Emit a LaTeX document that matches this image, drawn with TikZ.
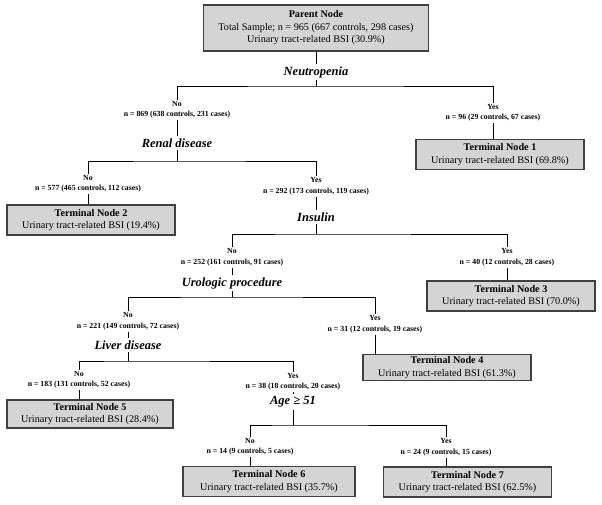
\documentclass[tikz,border=0pt]{standalone}
\usepackage{fontspec}
\setmainfont{Liberation Serif}
\usepackage{tikz}
\usetikzlibrary{positioning}

\begin{document}
\begin{tikzpicture}[
    x=1pt, y=-1pt,
    every node/.style={font=\fontsize{10.2}{12.5}\selectfont, align=center},
    box/.style={draw=black!75, line width=1.3pt, fill=black!17,
        minimum width=168pt, minimum height=30pt, inner sep=1pt},
    split/.style={font=\fontsize{12.5}{14}\selectfont\bfseries\itshape, inner sep=2pt},
    branch/.style={font=\fontsize{7.8}{10.5}\selectfont\bfseries, inner sep=1.5pt},
    line/.style={draw, line width=0.8pt}
]
\useasboundingbox (0,0) rectangle (602,504);

% Root
\node[box, minimum width=225pt, minimum height=46pt] (root) at (316,28)
    {\textbf{Parent Node}\\Total Sample; n = 965 (667 controls, 298 cases)\\Urinary tract-related BSI (30.9\%)};
\node[split] (neutro) at (316,72) {Neutropenia};
\coordinate (nbar) at (316,86);
\node[branch] (no1) at (177,110) {No\\n = 869 (638 controls, 231 cases)};
\node[branch] (yes1) at (493,113) {Yes\\n = 96 (29 controls, 67 cases)};
\node[box] (t1) at (500,154.5) {\textbf{Terminal Node 1}\\Urinary tract-related BSI (69.8\%)};

% Renal disease
\node[split] (renal) at (177,143) {Renal disease};
\coordinate (rbar) at (177,161);
\node[branch] (no2) at (88,184) {No\\n = 577 (465 controls, 112 cases)};
\node[branch] (yes2) at (316,186.5) {Yes\\n = 292 (173 controls, 119 cases)};
\node[box] (t2) at (91,220) {\textbf{Terminal Node 2}\\Urinary tract-related BSI (19.4\%)};

% Insulin
\node[split] (insulin) at (316,217) {Insulin};
\coordinate (ibar) at (316,234);
\node[branch] (no3) at (232,257.5) {No\\n = 252 (161 controls, 91 cases)};
\node[branch] (yes3) at (507,257.5) {Yes\\n = 40 (12 controls, 28 cases)};
\node[box] (t3) at (511,296) {\textbf{Terminal Node 3}\\Urinary tract-related BSI (70.0\%)};

% Urologic procedure
\node[split] (uro) at (232,283) {Urologic procedure};
\coordinate (ubar) at (232,297);
\node[branch] (no4) at (128,321.5) {No\\n = 221 (149 controls, 72 cases)};
\node[branch] (yes4) at (375,324.5) {Yes\\n = 31 (12 controls, 19 cases)};
\node[box, minimum height=26pt] (t4) at (447,367.5) {\textbf{Terminal Node 4}\\Urinary tract-related BSI (61.3\%)};

% Liver disease
\node[split] (liver) at (128,345) {Liver disease};
\coordinate (lbar) at (128,361);
\node[branch] (no5) at (79,380) {No\\n = 183 (131 controls, 52 cases)};
\node[branch] (yes5) at (293,382) {Yes\\n = 38 (18 controls, 20 cases)};
\node[box, minimum width=166pt, minimum height=28pt] (t5) at (90,414) {\textbf{Terminal Node 5}\\Urinary tract-related BSI (28.4\%)};

% Age
\node[split] (age) at (293,402) {Age ≥ 51};
\coordinate (abar) at (293,425);
\node[branch] (no6) at (250,447) {No\\n = 14 (9 controls, 5 cases)};
\node[branch] (yes6) at (446,447.5) {Yes\\n = 24 (9 controls, 15 cases)};
\node[box, minimum width=172pt] (t6) at (269,481.5) {\textbf{Terminal Node 6}\\Urinary tract-related BSI (35.7\%)};
\node[box] (t7) at (467.5,482) {\textbf{Terminal Node 7}\\Urinary tract-related BSI (62.5\%)};

% Connectors
\draw[line] (root) -- (neutro);
\draw[line] (neutro) -- (nbar);
\draw[line] (no1) |- (nbar) -| (yes1);
\draw[line] (yes1) -- (yes1 |- t1.north);
\draw[line] (no1) -- (renal);
\draw[line] (renal) -- (rbar);
\draw[line] (no2) |- (rbar) -| (yes2);
\draw[line] (no2) -- (no2 |- t2.north);
\draw[line] (yes2) -- (insulin);
\draw[line] (insulin) -- (ibar);
\draw[line] (no3) |- (ibar) -| (yes3);
\draw[line] (yes3) -- (yes3 |- t3.north);
\draw[line] (no3) -- (uro);
\draw[line] (uro) -- (ubar);
\draw[line] (no4) |- (ubar) -| (yes4);
\draw[line] (yes4) -- (yes4 |- t4.north);
\draw[line] (no4) -- (liver);
\draw[line] (liver) -- (lbar);
\draw[line] (no5) |- (lbar) -| (yes5);
\draw[line] (no5) -- (no5 |- t5.north);
\draw[line] (yes5) -- (age);
\draw[line] (age) -- (abar);
\draw[line] (no6) |- (abar) -| (yes6);
\draw[line] (no6) -- (no6 |- t6.north);
\draw[line] (yes6) -- (yes6 |- t7.north);

\end{tikzpicture}
\end{document}
